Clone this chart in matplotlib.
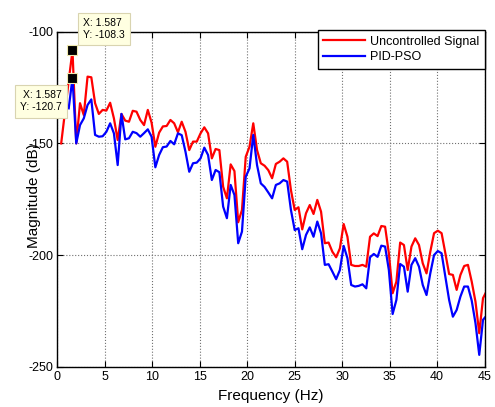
import numpy as np
import matplotlib
matplotlib.use('Agg')
import matplotlib.pyplot as plt

plt.rcParams['font.family'] = ['Liberation Sans', 'DejaVu Sans']
plt.rcParams['axes.unicode_minus'] = False

# frequency resolution of the spectrum (peak bin 4 at 1.587 Hz)
df = 1.587 / 4

uncontrolled = [
    -150, -136, -122, -108.3, -150, -132, -137.3, -120.1, -120.4, -132,
    -136.8, -135, -135.3, -131.8, -138.8, -148.5, -136.8, -139.8, -140.3, -135.4,
    -135.8, -139.5, -141.8, -135, -140.7, -151.5, -145.2, -142.4, -142.2, -139.5,
    -141, -145, -140.3, -144.8, -153, -149.2, -149.2, -145.5, -142.8, -145.5,
    -156.7, -152.5, -153, -169.4, -174.6, -159.4, -162.4, -185.3, -179.8, -156,
    -151.5, -141, -153, -158.9, -160, -162, -165.6, -159.2, -158.2, -156.7,
    -158.2, -170.9, -179.8, -178.6, -188.5, -181.3, -177.6, -181.6, -175.3, -180.6,
    -194.7, -194.4, -198.5, -201, -197, -186.1, -191.8, -204.4, -204.9, -204.9,
    -204.4, -205.2, -191.8, -190.3, -191.5, -187, -187.3, -199.2, -217.1, -211.9,
    -194.4, -195.5, -206.7, -196.2, -192.5, -195.5, -203.7, -208.2, -198.5, -190.2,
    -189.1, -190.2, -199.2, -208.5, -208.9, -215.6, -208.9, -204.9, -204.4, -211.9,
    -220.9, -235, -219.3, -216,
]

pid_pso = [
    np.nan, np.nan, -134.3, -120.7, -150, -141.8, -138.8, -132.8, -130.3, -146.2,
    -147, -146.8, -144.8, -141, -145.5, -159.7, -136.8, -148.2, -147.7, -144.8,
    -145.4, -147, -145.4, -143.7, -147, -160.7, -155.2, -151.7, -151.4, -148.9,
    -150.4, -145.5, -146.3, -153.7, -162.7, -158.9, -158.6, -156.7, -151.9, -155.2,
    -166.4, -161.9, -162.9, -178.3, -183.5, -168.6, -173.1, -194.7, -189.5, -164.9,
    -161.2, -146.2, -159.7, -167.9, -169.5, -172, -174.6, -168.6, -167.9, -166.4,
    -167.1, -179.8, -188.8, -188, -197.4, -191, -187.6, -191.8, -185, -190.3,
    -204.4, -204.1, -207.4, -210.8, -206.7, -195.9, -201.4, -213.4, -214.1, -213.8,
    -213.1, -214.9, -201, -199.5, -200.8, -195.8, -196.2, -206.7, -226.4, -220.1,
    -204, -205.2, -216.4, -204.4, -201.4, -205.2, -213.4, -217.9, -208.2, -200,
    -198.2, -199.2, -209.7, -220.1, -227.6, -224.6, -218.6, -214.1, -214.1, -220.4,
    -230.5, -244.7, -229, -227,
]

freq = np.arange(1, len(uncontrolled) + 1) * df

tip_x = 1.587
tip_red = -108.3
tip_blue = -120.7

fig = plt.figure(figsize=(4.95, 4.07), dpi=100, facecolor='white')
ax = fig.add_axes([0.116, 0.099, 0.863, 0.823])

ax.plot(freq, uncontrolled, color='#FF0000', lw=1.6, label='Uncontrolled Signal')
ax.plot(freq, pid_pso, color='#0000FF', lw=1.6, label='PID-PSO')

ax.set_xlim(0, 45)
ax.set_ylim(-250, -100)
ax.set_xticks(np.arange(0, 46, 5))
ax.set_yticks([-250, -200, -150, -100])
ax.grid(True, color='#707070', linestyle=':', linewidth=0.8)
ax.tick_params(direction='in', top=True, right=True, length=4, width=0.8,
               labelsize=9, pad=3)
for s in ax.spines.values():
    s.set_linewidth(1.0)

ax.set_xlabel('Frequency (Hz)', fontsize=11)
ax.set_ylabel('Magnitude (dB)', fontsize=11)
ax.xaxis.set_label_coords(0.5, -0.067)
ax.yaxis.set_label_coords(-0.039, 0.51)

leg = ax.legend(loc='upper right', bbox_to_anchor=(1.0, 1.005), borderaxespad=0,
                fontsize=9, fancybox=False, framealpha=1, edgecolor='black',
                handlelength=3.3, handletextpad=0.4, borderpad=0.45,
                labelspacing=0.3)
leg.get_frame().set_linewidth(1.0)

# data cursor tips
tipbox = dict(boxstyle='square,pad=0.5', facecolor='#FFFFE1', edgecolor='#D9D4B0', lw=0.8)
ax.plot([tip_x, tip_x], [tip_red, tip_blue], linestyle='none', marker='s',
        markersize=6.5, markerfacecolor='black', markeredgecolor='#F0EAB0',
        markeredgewidth=0.8, clip_on=False, zorder=5)
ax.annotate('X: 1.587\nY: -108.3', xy=(tip_x, tip_red), xytext=(10.5, 10),
            textcoords='offset pixels', ha='left', va='bottom', fontsize=7.5,
            linespacing=1.3, bbox=tipbox, annotation_clip=False, zorder=6)
ax.annotate('X: 1.587\nY: -120.7', xy=(tip_x, tip_blue), xytext=(-11, -12),
            textcoords='offset pixels', ha='right', va='top', fontsize=7.5,
            linespacing=1.3, bbox=tipbox, annotation_clip=False, zorder=6)

fig.savefig('out.png', dpi=100)
